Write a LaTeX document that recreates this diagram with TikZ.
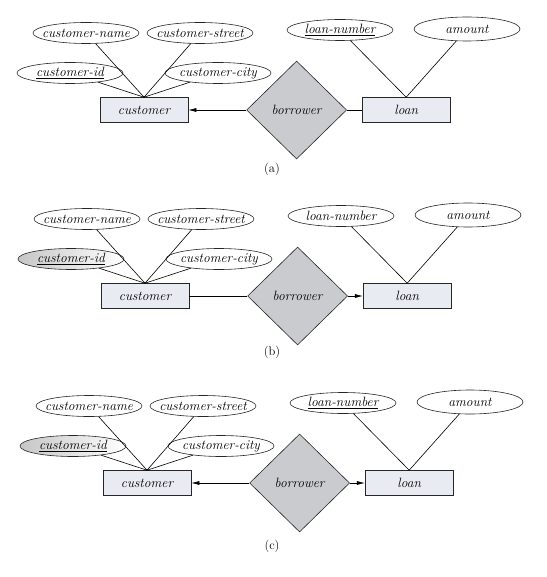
\documentclass[tikz,border=0pt]{standalone}
\usetikzlibrary{positioning, shapes.geometric, arrows.meta}

\definecolor{boxfill}{HTML}{E8EBF2}
\definecolor{relfill}{HTML}{C9CBCF}
\newcommand{\erfont}{\fontsize{13.5}{16}\selectfont\itshape}

\tikzset{
	entity/.style={draw=black!85, fill=boxfill, minimum width=88pt, minimum height=25pt, inner sep=0pt, font=\erfont},
	attrib/.style={draw=black!85, ellipse, fill=white, minimum width=106pt, minimum height=21pt, inner xsep=-10pt, inner ysep=-1pt, font=\erfont},
	keyshade/.style={left color=gray!45, right color=white},
	relation/.style={draw=black!85, diamond, fill=relfill, minimum width=100pt, minimum height=98pt, inner sep=0pt, font=\erfont},
	card/.style={-{Latex[length=8pt,width=4pt]}},
	tag/.style={font=\fontsize{12.5}{15}\selectfont}
}

\begin{document}
\begin{tikzpicture}[x=1pt, y=-1pt, line width=0.6pt]
	\useasboundingbox (0,0) rectangle (546,577);

	% (a)
	\begin{scope}
	\node (custa)[entity] at (144,110) {customer};
	\node (borra)[relation, right=58pt of custa] {borrower};
	\node (loana)[entity, right=15pt of borra] {loan};
	\node (cnamea)[attrib] at (86,33) {customer-name};
	\node (cstreeta)[attrib] at (200,33) {customer-street};
	\node (cida)[attrib] at (70,73) {\underline{customer-id}};
	\node (ccitya)[attrib] at (218,73) {customer-city};
	\node (lnuma)[attrib] at (340,30) {\underline{loan-number}};
	\node (amounta)[attrib, minimum height=24pt] at (467,29) {amount};
	\draw (cnamea)--(custa.north);
	\draw (cstreeta)--(custa.north);
	\draw (cida)--(custa.north);
	\draw (ccitya)--(custa.north);
	\draw (lnuma)--(loana.north);
	\draw (amounta)--(loana.north);
	\draw[card] (borra)--(custa);
	\draw (borra)--(loana);
	\end{scope}
	\node (taga)[tag] at (272,169) {(a)};

	% (b)
	\begin{scope}[shift={(1,186)}]
	\node (custb)[entity] at (144,110) {customer};
	\node (borrb)[relation, right=58pt of custb] {borrower};
	\node (loanb)[entity, right=15pt of borrb] {loan};
	\node (cnameb)[attrib] at (86,33) {customer-name};
	\node (cstreetb)[attrib] at (200,33) {customer-street};
	\node (cidb)[attrib, keyshade] at (70,73) {\underline{customer-id}};
	\node (ccityb)[attrib] at (218,73) {customer-city};
	\node (lnumb)[attrib] at (340,30) {loan-number};
	\node (amountb)[attrib, minimum height=24pt] at (467,29) {amount};
	\draw (cnameb)--(custb.north);
	\draw (cstreetb)--(custb.north);
	\draw (cidb)--(custb.north);
	\draw (ccityb)--(custb.north);
	\draw (lnumb)--(loanb.north);
	\draw (amountb)--(loanb.north);
	\draw (custb)--(borrb);
	\draw[card] (borrb)--(loanb);
	\end{scope}
	\node (tagb)[tag] at (272,352) {(b)};

	% (c)
	\begin{scope}[shift={(3,373)}]
	\node (custc)[entity] at (144,110) {customer};
	\node (borrc)[relation, right=58pt of custc] {borrower};
	\node (loanc)[entity, right=15pt of borrc] {loan};
	\node (cnamec)[attrib] at (86,33) {customer-name};
	\node (cstreetc)[attrib] at (200,33) {customer-street};
	\node (cidc)[attrib, keyshade] at (70,73) {\underline{customer-id}};
	\node (ccityc)[attrib] at (218,73) {customer-city};
	\node (lnumc)[attrib] at (340,30) {\underline{loan-number}};
	\node (amountc)[attrib, minimum height=24pt] at (467,29) {amount};
	\draw (cnamec)--(custc.north);
	\draw (cstreetc)--(custc.north);
	\draw (cidc)--(custc.north);
	\draw (ccityc)--(custc.north);
	\draw (lnumc)--(loanc.north);
	\draw (amountc)--(loanc.north);
	\draw[card] (borrc)--(custc);
	\draw[card] (borrc)--(loanc);
	\end{scope}
	\node (tagc)[tag] at (272,546) {(c)};
\end{tikzpicture}
\end{document}
